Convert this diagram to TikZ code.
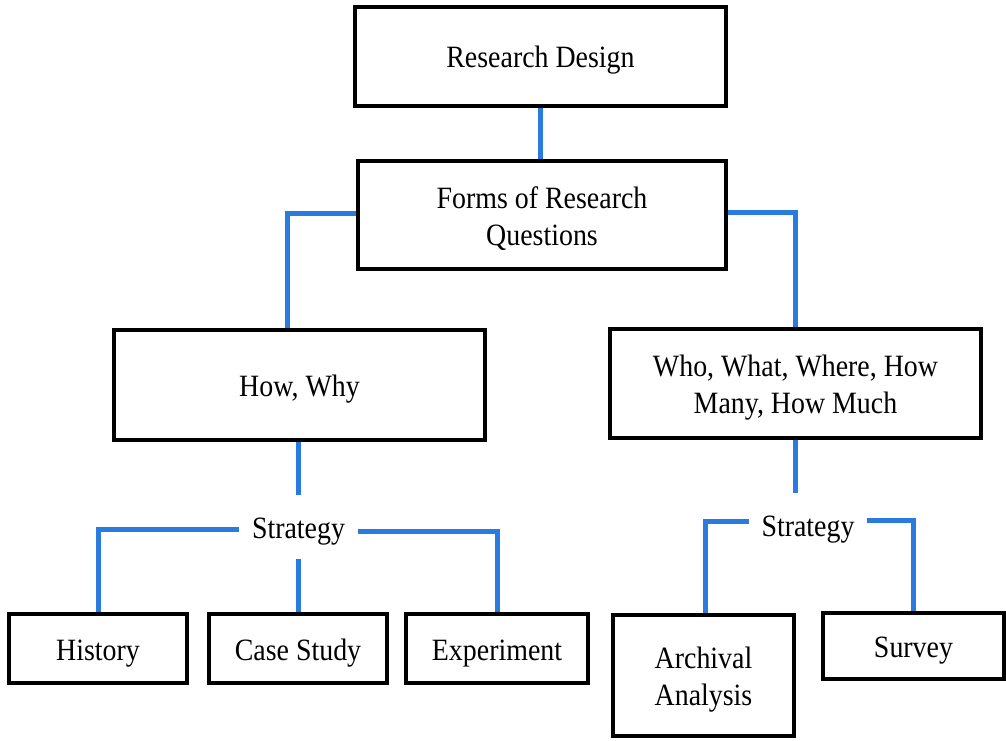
\documentclass[tikz,border=0pt]{standalone}
\usepackage{fontspec}
\setmainfont{Liberation Serif}[FakeStretch=0.9]
\definecolor{linkblue}{RGB}{42,123,222}
% struts that fix the text's height and depth inside every node
\newcommand{\topstrut}{\rule{0pt}{30pt}}
\newcommand{\botstrut}{\rule[-7pt]{0pt}{7pt}}
\begin{document}
\begin{tikzpicture}[x=1pt,y=-1pt,
  lbl/.style={font=\fontsize{31}{37}\selectfont,
    execute at begin node=\topstrut, execute at end node=\botstrut},
  box/.style={lbl,draw=black,line width=4pt,rectangle,inner sep=0pt,align=center},
  twoline/.style={execute at begin node={}, execute at end node={}},
  strat/.style={lbl,rectangle,inner sep=0pt,minimum width=118pt,minimum height=64pt},
  conn/.style={draw=linkblue,line width=5pt}]
\useasboundingbox[fill=white] (0,0) rectangle (1006,741);

% boxes
\node[box,minimum width=371pt,minimum height=99pt]  (rd)   at (540.5,56.5) {Research Design};
\node[box,twoline,minimum width=368pt,minimum height=108pt] (frq) at (542,215)
  {\topstrut Forms of Research\\Questions\botstrut};
\node[box,minimum width=371pt,minimum height=110pt] (hw)   at (299.5,385)  {How, Why};
\node[box,twoline,minimum width=371pt,minimum height=109pt] (who) at (795.5,383.5)
  {\topstrut Who, What, Where, How\\Many, How Much\botstrut};
\node[box,minimum width=178pt,minimum height=69pt]  (hist) at (98,648.5)   {History};
\node[box,minimum width=178pt,minimum height=69pt]  (case) at (298,648.5)  {Case Study};
\node[box,minimum width=182pt,minimum height=69pt]  (exp)  at (497,648.5)  {Experiment};
\node[box,twoline,minimum width=181pt,minimum height=121pt] (arch) at (703.5,675.5)
  {\topstrut Archival\\Analysis\botstrut};
\node[box,minimum width=181pt,minimum height=66pt]  (surv) at (913.5,646)  {Survey};

% strategy labels
\node[strat] (s1) at (298.5,527) {Strategy};
\node[strat] (s2) at (808,525)   {Strategy};

% connectors
\draw[conn] (rd.south) -- (rd.south |- frq.north);
\draw[conn] ([yshift=2pt]frq.west) -| ([xshift=-12.5pt]hw.north);
\draw[conn] ([yshift=3pt]frq.east) -| (who.north);
\draw[conn] (s1.north |- hw.south) -- (s1.north);
\draw[conn] ([yshift=-2pt]s1.west) -| (hist.north);
\draw[conn] ([yshift=-4pt]s1.east) -| (exp.north);
\draw[conn] (case.north |- s1.south) -- (case.north);
\draw[conn] (who.south) -- (who.south |- s2.north);
\draw[conn] ([yshift=4pt]s2.west) -| ([xshift=1.5pt]arch.north);
\draw[conn] ([yshift=5pt]s2.east) -| (surv.north);
\end{tikzpicture}
\end{document}
